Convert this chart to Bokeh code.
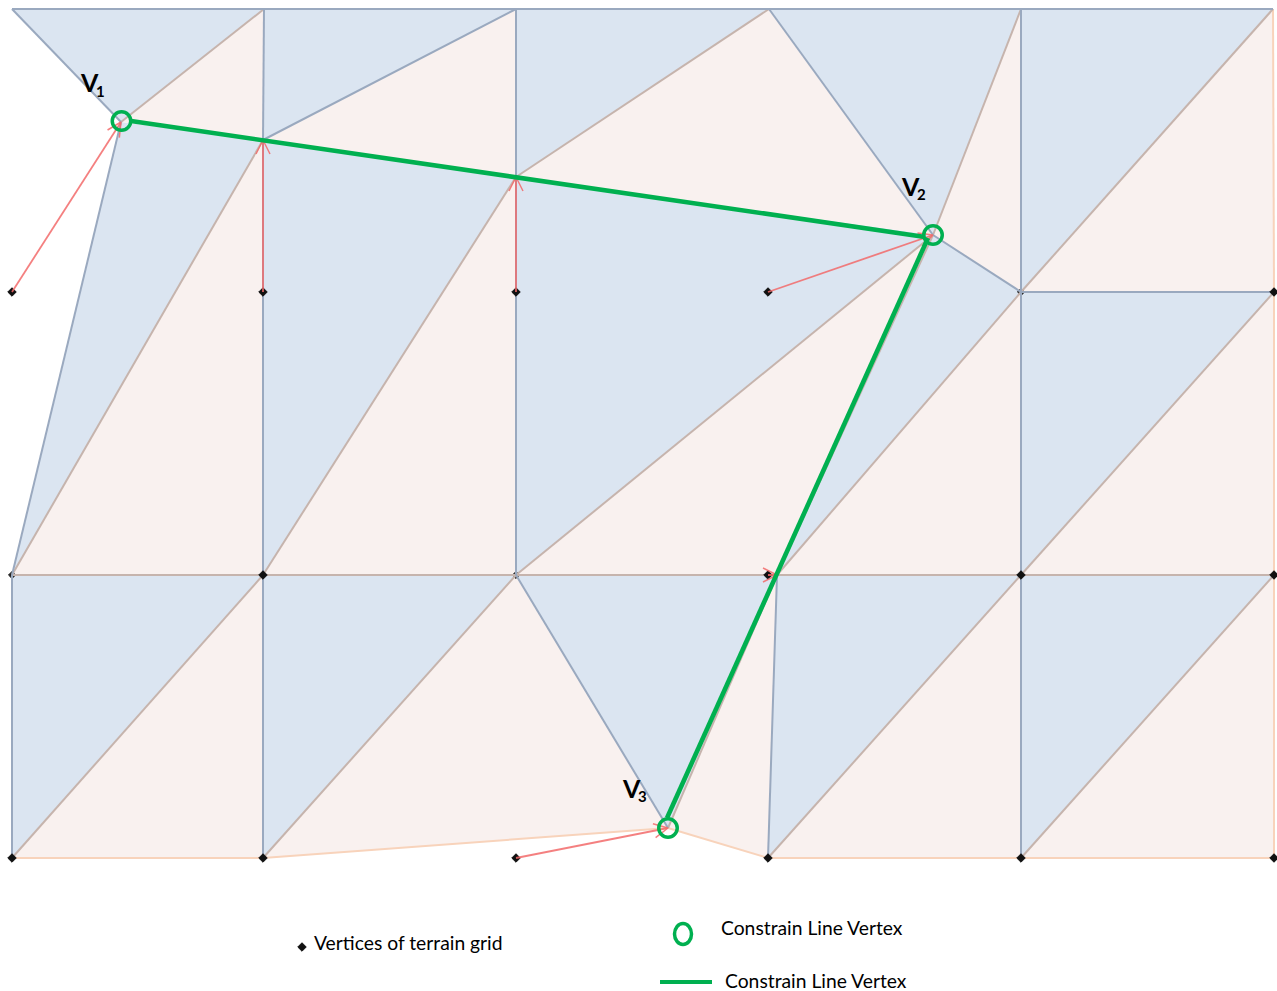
from math import pi
from bokeh.plotting import figure
from bokeh.models import ColumnDataSource, Arrow, OpenHead, Range1d
from bokeh.core.properties import value
from bokeh.embed import file_html
from bokeh.resources import INLINE

# Mesh vertices, in picture pixels
vertex_x = [12, 264, 516, 769, 1021, 1273,
            121, 263, 516, 933,
            1021, 1274,
            12, 263, 516, 777, 1021, 1274,
            12, 263, 668, 768, 1021, 1274]
vertex_y = [9, 9, 9, 9, 9, 9,
            122, 140, 177, 235,
            292, 292,
            575, 575, 575, 575, 575, 575,
            858, 858, 828, 858, 858, 858]

blue_triangles = [(0, 1, 6), (1, 2, 7), (2, 3, 8), (3, 4, 9), (4, 5, 10),
                  (6, 7, 12), (7, 8, 13), (8, 9, 14), (9, 10, 15), (10, 11, 16),
                  (12, 13, 18), (13, 14, 19), (14, 15, 20), (15, 16, 21), (16, 17, 22)]
pink_triangles = [(1, 6, 7), (2, 7, 8), (3, 8, 9), (4, 9, 10), (5, 10, 11),
                  (7, 12, 13), (8, 13, 14), (9, 14, 15), (10, 15, 16), (11, 16, 17),
                  (13, 18, 19), (14, 19, 20), (15, 20, 21), (16, 21, 22), (17, 22, 23)]

blue_edges = [(0, 1), (1, 2), (2, 3), (3, 4), (4, 5), (0, 6), (6, 12), (1, 7), (2, 8),
              (7, 2), (3, 9), (4, 10), (9, 10), (10, 11), (7, 13), (8, 14), (10, 16),
              (12, 18), (13, 19), (14, 20), (15, 21), (16, 22)]
tan_edges = [(1, 6), (3, 8), (4, 9), (5, 10), (7, 12), (8, 13), (9, 14), (9, 15), (10, 15),
             (11, 16), (12, 13), (13, 14), (14, 15), (15, 16), (16, 17),
             (13, 18), (14, 19), (15, 20), (16, 21), (17, 22)]
orange_edges = [(18, 19), (19, 20), (20, 21), (21, 22), (22, 23), (5, 11), (11, 17), (17, 23)]

# Terrain grid vertices
grid_x = [12, 263, 516, 768, 1274,
          263, 768, 1021, 1274,
          12, 263, 516, 768, 1021, 1274]
grid_y = [292, 292, 292, 292, 292,
          575, 575, 575, 575,
          858, 858, 858, 858, 858, 858]
faint_grid_x = [12, 516, 1021]
faint_grid_y = [575, 575, 292]

# Displacement arrows
arrow_x0 = [12, 263, 516, 768, 768, 516]
arrow_y0 = [292, 292, 292, 292, 575, 858]
arrow_x1 = [121, 263, 516, 933, 777, 668]
arrow_y1 = [122, 140, 177, 235, 575, 828]

# Constraint line
line_a_x = [131, 925]
line_a_y = [121, 237]
line_b_x = [928, 667]
line_b_y = [238, 818]
ring_x = [121.5, 933, 668]
ring_y = [121, 235, 828]
vertex_names = ["V", "V", "V"]
name_x = [81, 902, 623]
name_y = [82, 186, 788]
sub_labels = ["1", "2", "3"]
sub_x = [96, 917, 638]
sub_y = [91, 194, 796]

legend_texts = ["Vertices of terrain grid", "Constrain Line Vertex", "Constrain Line Vertex"]
legend_x = [314, 721, 725]
legend_y = [942, 927, 980]

BLUE, PINK = "#dbe5f1", "#f9f1ef"
W, H = 1277, 991
p = figure(width=W, height=H, output_backend="svg", toolbar_location=None,
           x_range=Range1d(0.5, W + 0.5), y_range=Range1d(H + 0.5, 0.5),
           min_border=0, outline_line_color=None, background_fill_color="white")
p.axis.visible = False
p.grid.visible = False


def tri_xy(tris):
    return ([[vertex_x[i] for i in t] for t in tris], [[vertex_y[i] for i in t] for t in tris])


def edge_xy(edges):
    return ([[vertex_x[a], vertex_x[b]] for a, b in edges], [[vertex_y[a], vertex_y[b]] for a, b in edges])


xs, ys = tri_xy(blue_triangles)
p.patches(xs, ys, fill_color=BLUE, line_color=None)
xs, ys = tri_xy(pink_triangles)
p.patches(xs, ys, fill_color=PINK, line_color=None)

p.scatter(faint_grid_x, faint_grid_y, marker="square", angle=pi / 4, size=5, color="#222222")

xs, ys = edge_xy(orange_edges)
p.multi_line(xs, ys, line_color="#f8d3bb", line_width=2)
xs, ys = edge_xy(tan_edges)
p.multi_line(xs, ys, line_color="#c6b4ad", line_width=2)
xs, ys = edge_xy(blue_edges)
p.multi_line(xs, ys, line_color="#9aa9bf", line_width=2)

p.scatter(grid_x, grid_y, marker="square", angle=pi / 4, size=6, color="#111111")

arrows = ColumnDataSource(dict(x0=arrow_x0, y0=arrow_y0, x1=arrow_x1, y1=arrow_y1))
p.add_layout(Arrow(source=arrows, x_start="x0", y_start="y0", x_end="x1", y_end="y1",
                   line_color="#f26a6a", line_alpha=0.85, line_width=1.8,
                   end=OpenHead(size=14, line_color="#f26a6a", line_alpha=0.85, line_width=1.5)))

p.line(line_a_x, line_a_y, line_color="#00b050", line_width=4.6, level="overlay")
p.line(line_b_x, line_b_y, line_color="#00b050", line_width=4.6, level="overlay")
p.scatter(ring_x, ring_y, marker="circle", size=18.5, fill_color=None,
          line_color="#00b050", line_width=3.5, level="overlay")

p.text(name_x, name_y, text=vertex_names, text_font=value("Lato"), text_font_style="bold",
       text_font_size="25px", text_align="left", text_baseline="middle", text_color="#000000")
p.text(sub_x, sub_y, text=sub_labels, text_font=value("Lato"), text_font_style="bold",
       text_font_size="15px", text_align="left", text_baseline="middle", text_color="#000000")

# Hand-drawn legend
p.scatter([302], [947], marker="square", angle=pi / 4, size=6, color="#111111")
p.ellipse([683], [934], width=[17], height=[21], fill_color=None, line_color="#00b050", line_width=3.5)
p.line([660, 712], [982, 982], line_color="#00b050", line_width=4)
p.text(legend_x, legend_y, text=legend_texts, text_font=value("Lato"), text_font_size="19.3px",
       text_align="left", text_baseline="middle", text_color="#000000")

open("out.html", "w").write(file_html(p, INLINE))
